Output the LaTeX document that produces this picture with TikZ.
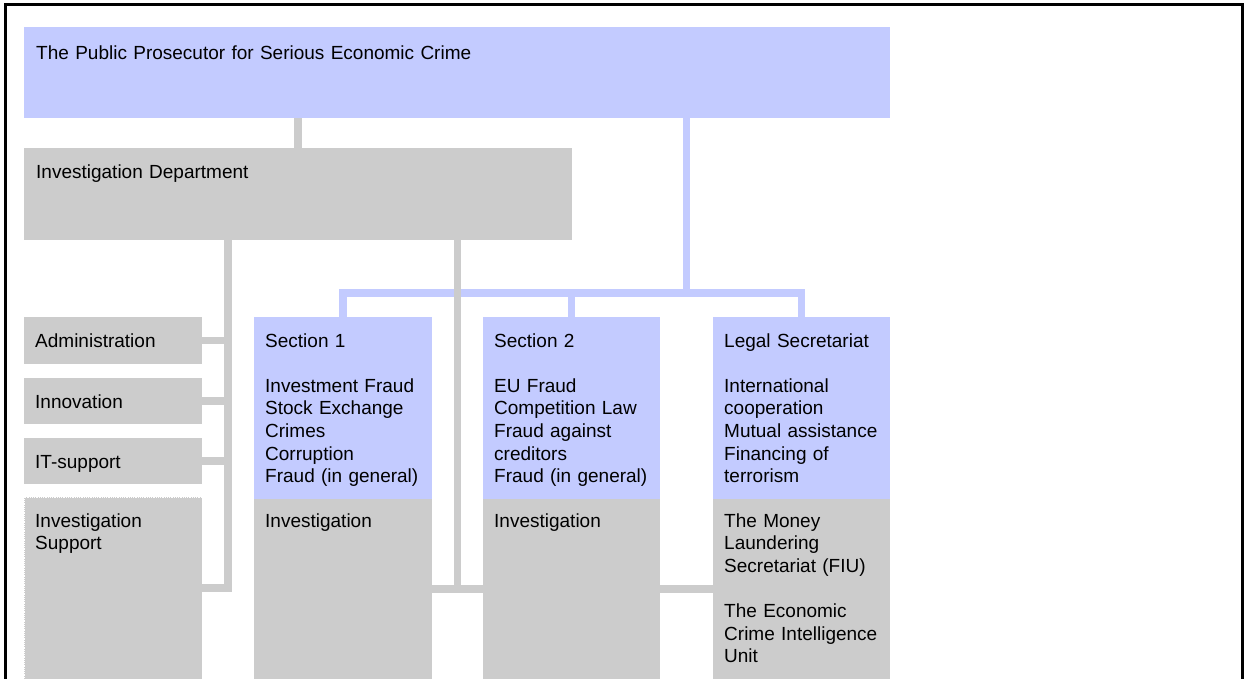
\documentclass[tikz,border=0pt]{standalone}
\usepackage{fontspec}
\setmainfont{Liberation Sans}
\usetikzlibrary{calc}
\definecolor{orgblue}{RGB}{195,203,255}
\definecolor{orggrey}{RGB}{204,204,204}
\tikzset{
  box/.style={rectangle, inner sep=0pt, outer sep=0pt, anchor=north west},
  bluebox/.style={box, fill=orgblue},
  greybox/.style={box, fill=orggrey},
  lbl/.style={anchor=north west, inner sep=0pt, align=left, text width=170pt,
    font=\fontsize{19}{22.6}\selectfont, execute at begin node=\strut},
  blueline/.style={draw=orgblue, line width=7.5pt},
  greyline/.style={draw=orggrey, line width=7.5pt},
}
\begin{document}
\begin{tikzpicture}[x=1pt, y=-1pt]
\useasboundingbox (0,0) rectangle (1246,679);
\draw[line width=3pt] (5,679) -- (5,5) -- (1242,5) -- (1242,679);
% head and department
\node[bluebox, minimum width=866, minimum height=91] (top) at (24,27) {};
\node[greybox, minimum width=548, minimum height=92] (dept) at (24,148) {};
% staff units
\node[greybox, minimum width=178, minimum height=47] (admin) at (24,317) {};
\node[greybox, minimum width=178, minimum height=46] (innov) at (24,378) {};
\node[greybox, minimum width=178, minimum height=46] (itsup) at (24,438) {};
\node[greybox, minimum width=178, minimum height=182, draw=white, densely dotted, line width=0.8pt] (invsup) at (24,497) {};
% sections
\node[bluebox, minimum width=178, minimum height=182] (sec1) at (254,317) {};
\node[greybox, minimum width=178, minimum height=180] (sec1inv) at (254,499) {};
\node[bluebox, minimum width=177, minimum height=182] (sec2) at (483,317) {};
\node[greybox, minimum width=177, minimum height=180] (sec2inv) at (483,499) {};
\node[bluebox, minimum width=177, minimum height=182] (legal) at (713,317) {};
\node[greybox, minimum width=177, minimum height=180] (legalinv) at (713,499) {};
% connectors
\coordinate (bus) at ($(sec2.north)!0.5!(legal.north) + (0,-24)$);
\coordinate (lspine) at ($(admin.east)!0.5!(sec1.west)$);
\coordinate (rspine) at ($(sec1inv.east)!0.5!(sec2inv.west)$);
\draw[greyline] (dept.north) -- (dept.north |- top.south);
\draw[blueline] (top.south -| bus) -- (bus);
\draw[blueline] (sec1.north) -- (sec1.north |- bus) -- (legal.north |- bus) -- (legal.north);
\draw[blueline] (sec2.north) -- (sec2.north |- bus);
\draw[greyline] (dept.south -| lspine) -- (invsup.east -| lspine) -- (invsup.east);
\draw[greyline] (admin.east) -- (admin.east -| lspine);
\draw[greyline] (innov.east) -- (innov.east -| lspine);
\draw[greyline] (itsup.east) -- (itsup.east -| lspine);
\draw[greyline] (dept.south -| rspine) -- (rspine);
\draw[greyline] (sec1inv.east) -- (sec2inv.west);
\draw[greyline] (sec2inv.east) -- (legalinv.west);
% texts
\node[lbl, text width=600pt] (top-t) at ([shift={(12,16)}]top.north west) {The Public Prosecutor for Serious Economic Crime};
\node[lbl, text width=400pt] (dept-t) at ([shift={(12,14)}]dept.north west) {Investigation Department};
\node[lbl] (admin-t) at ([shift={(11,14)}]admin.north west) {Administration};
\node[lbl] (innov-t) at ([shift={(11,14)}]innov.north west) {Innovation};
\node[lbl] (itsup-t) at ([shift={(11,14)}]itsup.north west) {IT-support};
\node[lbl] (invsup-t) at ([shift={(11,14)}]invsup.north west) {Investigation\\Support};
\node[lbl] (sec1-t) at ([shift={(11,14)}]sec1.north west) {Section 1\\[22.6pt]Investment Fraud\\Stock Exchange\\Crimes\\Corruption\\Fraud (in general)};
\node[lbl] (sec1inv-t) at ([shift={(11,12)}]sec1inv.north west) {Investigation};
\node[lbl] (sec2-t) at ([shift={(11,14)}]sec2.north west) {Section 2\\[22.6pt]EU Fraud\\Competition Law\\Fraud against\\creditors\\Fraud (in general)};
\node[lbl] (sec2inv-t) at ([shift={(11,12)}]sec2inv.north west) {Investigation};
\node[lbl] (legal-t) at ([shift={(11,14)}]legal.north west) {Legal Secretariat\\[22.6pt]International\\cooperation\\Mutual assistance\\Financing of\\terrorism};
\node[lbl] (legalinv-t) at ([shift={(11,12)}]legalinv.north west) {The Money\\Laundering\\Secretariat (FIU)\\[22.6pt]The Economic\\Crime Intelligence\\Unit};
\end{tikzpicture}
\end{document}
